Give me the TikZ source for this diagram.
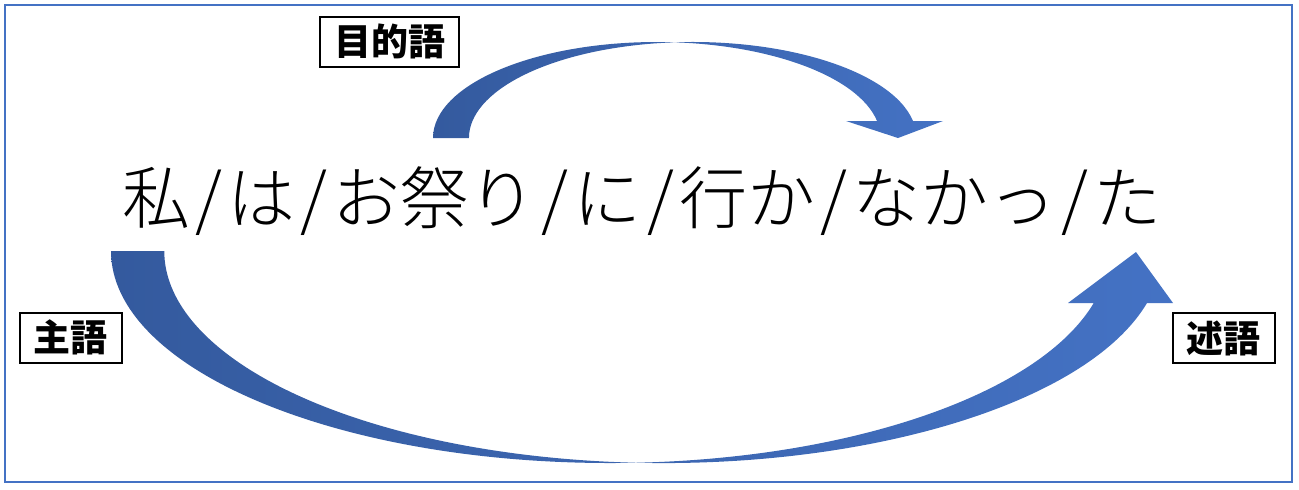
\documentclass[tikz,border=0pt]{standalone}
\usepackage{fontspec}
\usepackage{tikz}
\usetikzlibrary{positioning}
\newfontfamily\jplight{Noto Sans CJK JP Light}
\newfontfamily\jpfont{Noto Sans CJK JP}
\newcommand{\sepslash}{\hspace{2.6pt}/\hspace{2.6pt}}
\definecolor{arrowdark}{RGB}{52,90,158}
\definecolor{arrowlight}{RGB}{68,114,196}
\definecolor{frameblue}{RGB}{68,114,196}
\tikzstyle{role} = [rectangle, draw=black, line width=1pt, minimum height=25pt, inner xsep=7pt, text centered, font=\jpfont\bfseries\fontsize{18.5}{22}\selectfont]
\tikzstyle{band} = [left color=arrowdark, right color=arrowlight]

\begin{document}
\begin{tikzpicture}[x=0.5pt,y=-0.5pt]
\useasboundingbox (0,0) rectangle (1299,489);
\draw[line width=0.75pt, draw=frameblue] (5,5) rectangle (1292,482);

\node (sent) [font=\jplight\fontsize{34}{40}\selectfont] at (642,201) {私\sepslash は\sepslash お祭り\sepslash に\sepslash 行か\sepslash なかっ\sepslash た};

\node (obj) [role] at (389.5,41.5) {目的語};
\node (subj) [role] at (70.5,337.5) {主語};
\node (pred) [role] at (1223.5,338) {述語};

% upper arrow
\shade[band] (433,138) arc[start angle=180, end angle=349.8, x radius=223.8, y radius=96] -- (846,121) -- (898,138) -- (943,121) -- (913,121) arc[start angle=349.8, end angle=180, x radius=223.8, y radius=96] -- cycle;

% lower arrow
\shade[band] (111,251) arc[start angle=180, end angle=14.2, x radius=499, y radius=212] -- (1068,303) -- (1136,252) -- (1173,303) -- (1147,303) arc[start angle=14.2, end angle=180, x radius=499, y radius=212] -- cycle;

\end{tikzpicture}
\end{document}
